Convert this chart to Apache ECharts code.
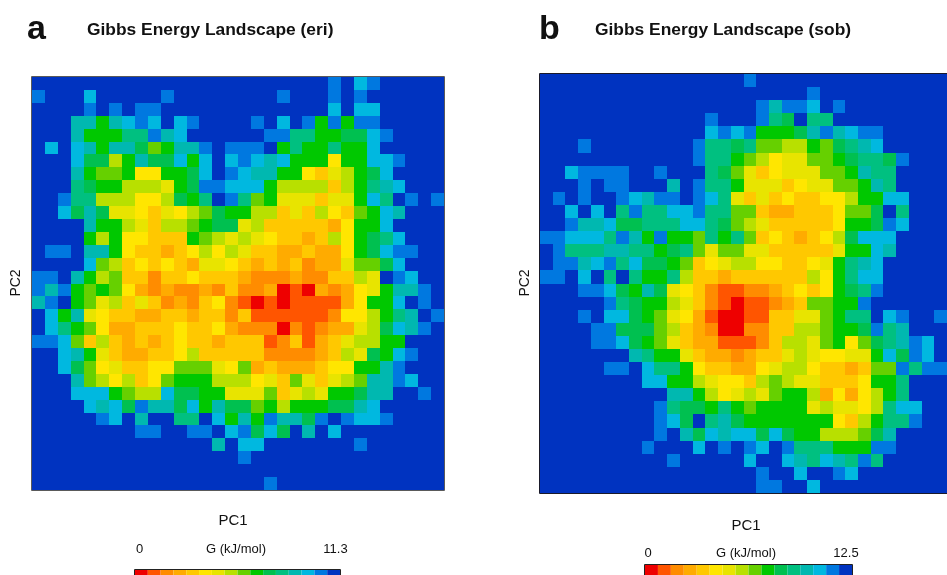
<!DOCTYPE html>
<html><head><meta charset="utf-8">
<script src="https://cdn.jsdelivr.net/npm/echarts@6.0.0/dist/echarts.min.js"></script>
<style>html,body{margin:0;padding:0;background:#fff}#c{width:947px;height:575px}</style>
</head><body><div id="c"></div>
<script>
// Energy levels (0 = lowest G, 15 = highest / empty), one code character per level
const levelCodes = ['R','O','o','a','g','Y','y','L','G','N','n','T','t','C','B','D'];
const levelColors = ['#ee0000','#ff5500','#ff8c00','#ffab00','#ffc800','#ffe600','#e8e400','#b8e000',
                     '#66d000','#00c800','#00c050','#00c080','#00b8b0','#00b8e0','#0078e0','#0033c0'];

// Panel a (eri): 32 rows (top -> bottom) x 32 columns (left -> right)
const eriRows = [
"DDDDDDDDDDDDDDDDDDDDDDDBDCBDDDDD",
"BDDDCDDDDDBDDDDDDDDBDDDBDBDDDDDD",
"DDDDBDBDBBDDDDDDDDDDDDDCDCCDDDDD",
"DDDttNtCBCDCBDDDDBDCDBNBNBBDDDDD",
"DDDtNNNTTBtCDDDDDDBBTTNNnnCBDDDD",
"DCDCtNttnGNttBDBBBDNTNNTNNCDDDDD",
"DDDCnnLNtnnCNCDCBCtCNNNYNNCCBDDD",
"DDDtNGGNYYNNnCDBCttNNYgyLNnCDDDD",
"DDDTnNNLLLyNnBBCCCNLLLLgLNTtCDDD",
"DDBTTLLLYYLnNTDBTGNyyygyyNCTDBDB",
"DDCntnyyYgyYLGnNNLLgygLYgGNCtDDD",
"DDDDtNNLygLLGNnnyLgggggaYNNCDDDD",
"DDDDNLNYYgggNGLyLyYggagLYNnTCDDD",
"DBBDttNYggagYLYLyggaagaaYNnCBBDD",
"DDDDCGLgYgYgayyYgagagoaayGGnCDDD",
"BBDtNLGggoggYgggaoooaooggLyDBCDD",
"BtBNGNGYaoaooaogooaRORaoaYyNttBD",
"tBDNGyLgygoaogYoOROROOOOaYNNCDBD",
"DCNtyYggaaggaggogOOOOOOoYYLNTtDB",
"DCTNGYaagggYggYaoooRoOoaayLnCtBD",
"BBCGgLgagagYggagggOogOagyLLNNDDD",
"DDCtNygaaggYLgggggooooagLynNCBDD",
"DDCnGYyggYYGGGyYGagaaagYYNNtBDDD",
"DDDtGLYLgYGNNNLLLYygGygyLGttBCDD",
"DDDCCCNGLLCnnNNyyyGgyLyNNnttDDBD",
"DDDDCtCnBttnCNtnnGNLNNNnntCDDDDD",
"DDDDDBCDtDDTTDCNtNBttnBDBCCBDDDD",
"DDDDDDDDBBDDBBDCBnCnDtDCDDDDDDDD",
"DDDDDDDDDDDDDDtDCCDDDDDDDBDDDDDD",
"DDDDDDDDDDDDDDDDBDDDDDDDDDDDDDDD",
"DDDDDDDDDDDDDDDDDDDDDDDDDDDDDDDD",
"DDDDDDDDDDDDDDDDDDBDDDDDDDDDDDDD"
];

// Panel b (sob): 32 rows x 32 columns (right-most column partly outside the picture)
const sobRows = [
"DDDDDDDDDDDDDDDDBDDDDDDDDDDDDDDD",
"DDDDDDDDDDDDDDDDDDDDDBDDDDDDDDDD",
"DDDDDDDDDDDDDDDDDBtBBCDBDDDDDDDD",
"DDDDDDDDDDDDDBDDDBTnDTTDDDDDDDDD",
"DDDDDDDDDDDDDCBCBNNNntBtCBBDDDDD",
"DDDBDDDDDDDDBTTnTGGLLNGnTtCDDDDD",
"DDDDDDDDDDDDBTTNGLYyyGGNnTTnBDDD",
"DDCBBBBDDBDDDTnGygYyyyGGNtTTDDDD",
"DDDBDBBDDDtDBTTNyyygYyyGGNtTDDDD",
"DBDBDDBCtBBDBCTygygYggYYLNNCCDDD",
"DDCDCDTBTTCCBTTGGgaagggYGGnDTDDD",
"DDBttCnnTTTCCTnGLygggggYNNnBCDDD",
"BBCCCTBtNBNNGTNTGgYgagYLnCCCDDDD",
"DBTTTttTTNnTGyGGyygggggyNNCtDDDD",
"DBBtCBTCnnNGgYyLLYYggYyNTtCDDDDD",
"BBDCDTDTNNTLggaggggggLYNTCCDDDDD",
"DDDBBCnNtnyYgoOOooagYgYNnTBDDDDD",
"DDDDDBTnNNLygoOROOoagGGNNBDDDDDD",
"DDDBDCCnNGyYaORROOggyyGNTTDCBDDB",
"DDDDBBnnnGLgaoRRooggLLGNNnBTtDDD",
"DDDDBBCnNGygaaOOOogLLyGNYGnTtBCD",
"DDDDDDDtTNNygaaoaggyLyYYyyNCnBCD",
"DDDDDBBDCTTNYggaaYyLLYggagGGBTBB",
"DDDDDDDDCCNNLyYYgLGLyygggYNNTDDD",
"DDDDDDDDDDttNLYyLyGNNLaYaYLNTDDD",
"DDDDDDDDDBTnnNTNGNNNNyLyyYLTCCDD",
"DDDDDDDDDBCnDTtnNNNNNNNYgLNTTBDD",
"DDDDDDDDDBDtnCtCCnCnNNLLLGntDDDD",
"DDDDDDDDBDDDCDBDBCDBTTTNNNBBDDDD",
"DDDDDDDDDDBDDDDDCDDCtTCtTBTDDDDD",
"DDDDDDDDDDDDDDDDDBDDCDDBCDDDDDDD",
"DDDDDDDDDDDDDDDDDBBDDCDDDDDDDDDD"
];

const eriRange = ['0', '11.3'];
const sobRange = ['0', '12.5'];
const titles = ['Gibbs Energy Landscape (eri)', 'Gibbs Energy Landscape (sob)'];
const panelLetters = ['a', 'b'];

function toCells(rows) {
  const out = [];
  rows.forEach((r, y) => {
    for (let x = 0; x < r.length; x++) out.push([x, y, levelCodes.indexOf(r[x])]);
  });
  return out;
}
const idx = n => Array.from({length: n}, (_, i) => String(i));

const GA = {left: 32, top: 77, width: 412, height: 413};
const GB = {left: 540, top: 74, width: 419, height: 419};
const CBA = {left: 135, top: 570, len: 205, th: 14};
const CBB = {left: 645, top: 565, len: 207, th: 14};

const pieces = levelColors.map((c, i) => ({value: i, color: c}));

function hiddenAxis(gi, isY) {
  return {
    type: 'category', gridIndex: gi, data: idx(32), inverse: !!isY,
    axisLine: {show: false}, axisTick: {show: false}, axisLabel: {show: false},
    splitLine: {show: false}, splitArea: {show: false}
  };
}
function vm(si, cb) {
  return {
    type: 'piecewise', seriesIndex: si, dimension: 2, pieces: pieces, orient: 'horizontal',
    left: cb.left, top: cb.top, itemWidth: cb.len / pieces.length, itemHeight: cb.th,
    itemGap: 0, itemSymbol: 'rect', showLabel: false, selectedMode: false,
    padding: 0, text: null, hoverLink: false
  };
}
// cells snapped to whole pixels so neighbouring cells meet without seams
function renderCell(params, api) {
  const c = api.coord([api.value(0), api.value(1)]);
  const s = api.size([1, 1]);
  const x0 = Math.round(c[0] - s[0] / 2), x1 = Math.round(c[0] + s[0] / 2);
  const y0 = Math.round(c[1] - s[1] / 2), y1 = Math.round(c[1] + s[1] / 2);
  return {type: 'rect', shape: {x: x0, y: y0, width: x1 - x0, height: y1 - y0},
          style: {fill: api.visual('color'), stroke: null}};
}
function txt(x, y, s, font, align, extra) {
  return Object.assign({
    type: 'text', x: x, y: y, z: 100,
    style: {text: s, font: font, fill: '#111', textAlign: align || 'center', textVerticalAlign: 'middle'}
  }, extra || {});
}
function frame(x, y, w, h, col) {
  return {type: 'rect', z: 100, silent: true,
    shape: {x: x, y: y, width: w, height: h},
    style: {fill: 'none', stroke: col, lineWidth: 1}};
}

const chart = echarts.init(document.getElementById('c'), null, {renderer: 'canvas'});
chart.setOption({
  animation: false,
  backgroundColor: '#ffffff',
  grid: [
    {left: GA.left, top: GA.top, width: GA.width, height: GA.height},
    {left: GB.left, top: GB.top, width: GB.width, height: GB.height}
  ],
  xAxis: [hiddenAxis(0, false), hiddenAxis(1, false)],
  yAxis: [hiddenAxis(0, true), hiddenAxis(1, true)],
  visualMap: [vm(0, CBA), vm(1, CBB)],
  series: [
    {type: 'custom', xAxisIndex: 0, yAxisIndex: 0, data: toCells(eriRows), renderItem: renderCell,
     encode: {x: 0, y: 1}, silent: true},
    {type: 'custom', xAxisIndex: 1, yAxisIndex: 1, data: toCells(sobRows), renderItem: renderCell,
     encode: {x: 0, y: 1}, silent: true}
  ],
  graphic: [
    txt(27, 30, panelLetters[0], 'bold 34px "Liberation Sans", Arial, sans-serif', 'left'),
    txt(87, 30, titles[0], 'bold 17.4px "Liberation Sans", Arial, sans-serif', 'left'),
    txt(539, 30, panelLetters[1], 'bold 34px "Liberation Sans", Arial, sans-serif', 'left'),
    txt(595, 30, titles[1], 'bold 17.4px "Liberation Sans", Arial, sans-serif', 'left'),
    txt(16, 283, 'PC2', '14px "Liberation Sans", Arial, sans-serif', 'center', {rotation: Math.PI / 2}),
    txt(525, 283, 'PC2', '14px "Liberation Sans", Arial, sans-serif', 'center', {rotation: Math.PI / 2}),
    txt(233, 521, 'PC1', '15px "Liberation Sans", Arial, sans-serif'),
    txt(746, 526, 'PC1', '15px "Liberation Sans", Arial, sans-serif'),
    txt(139.5, 549, eriRange[0], '13px "Liberation Sans", Arial, sans-serif'),
    txt(236, 549, 'G (kJ/mol)', '13px "Liberation Sans", Arial, sans-serif'),
    txt(335.5, 549, eriRange[1], '13px "Liberation Sans", Arial, sans-serif'),
    txt(648, 553, sobRange[0], '13px "Liberation Sans", Arial, sans-serif'),
    txt(746, 553, 'G (kJ/mol)', '13px "Liberation Sans", Arial, sans-serif'),
    txt(846, 553, sobRange[1], '13px "Liberation Sans", Arial, sans-serif'),
    frame(GA.left - 0.5, GA.top - 0.5, GA.width + 1, GA.height + 1, '#5a5a5a'),
    frame(GB.left - 0.5, GB.top - 0.5, GB.width + 1, GB.height + 1, '#1a1a2a'),
    frame(CBA.left - 0.5, CBA.top - 0.5, CBA.len + 1, CBA.th + 1, '#222'),
    frame(CBB.left - 0.5, CBB.top - 0.5, CBB.len + 1, CBB.th + 1, '#222')
  ]
});
</script>
</body></html>
